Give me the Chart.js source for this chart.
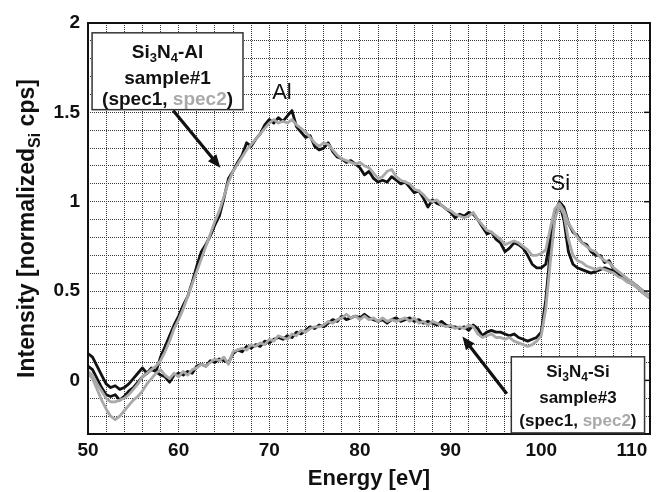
<!DOCTYPE html>
<html>
<head>
<meta charset="utf-8">
<script src="https://cdn.jsdelivr.net/npm/chart.js@4"></script>
<style>
  body { margin: 0; background: #fff; }
  canvas { display: block; }
</style>
</head>
<body>
<canvas id="eelsChart" width="657" height="492"></canvas>
<script>
// Energía (eV), paso 0.5
const energy = [
  50, 50.5, 51, 51.5, 52, 52.5, 53, 53.5, 54, 54.5, 55, 55.5, 56, 56.5, 57, 57.5, 58, 58.5, 59, 59.5,
  60, 60.5, 61, 61.5, 62, 62.5, 63, 63.5, 64, 64.5, 65, 65.5, 66, 66.5, 67, 67.5, 68, 68.5, 69, 69.5,
  70, 70.5, 71, 71.5, 72, 72.5, 73, 73.5, 74, 74.5, 75, 75.5, 76, 76.5, 77, 77.5, 78, 78.5, 79, 79.5,
  80, 80.5, 81, 81.5, 82, 82.5, 83, 83.5, 84, 84.5, 85, 85.5, 86, 86.5, 87, 87.5, 88, 88.5, 89, 89.5,
  90, 90.5, 91, 91.5, 92, 92.5, 93, 93.5, 94, 94.5, 95, 95.5, 96, 96.5, 97, 97.5, 98, 98.5, 99, 99.5,
  100, 100.5, 101, 101.5, 102, 102.5, 103, 103.5, 104, 104.5, 105, 105.5, 106, 106.5, 107, 107.5, 108, 108.5, 109, 109.5,
  110, 110.5, 111, 111.5, 112
];

// Si3N4-Al sample#1
const alSpec1 = [
  0.15, 0.13, 0.08, 0.03, -0.02, -0.04, -0.03, -0.05, -0.04, -0.02, 0.01, 0.04, 0.07, 0.04, 0.06, 0.05, 0.13, 0.19, 0.25, 0.31,
  0.36, 0.42, 0.47, 0.55, 0.64, 0.72, 0.76, 0.81, 0.87, 0.92, 1.02, 1.13, 1.17, 1.22, 1.26, 1.33, 1.31, 1.35, 1.38, 1.43,
  1.46, 1.44, 1.47, 1.45, 1.48, 1.51, 1.42, 1.39, 1.36, 1.37, 1.31, 1.29, 1.30, 1.33, 1.28, 1.25, 1.24, 1.22, 1.23, 1.21,
  1.19, 1.15, 1.17, 1.13, 1.11, 1.12, 1.11, 1.14, 1.12, 1.10, 1.11, 1.08, 1.05, 1.06, 1.02, 0.97, 1.01, 0.99, 0.98, 0.96,
  0.94, 0.91, 0.93, 0.92, 0.94, 0.93, 0.90, 0.86, 0.82, 0.83, 0.79, 0.77, 0.72, 0.74, 0.77, 0.76, 0.74, 0.70, 0.65, 0.63,
  0.63, 0.65, 0.80, 0.93, 1.00, 0.97, 0.88, 0.83, 0.81, 0.77, 0.76, 0.72, 0.70, 0.70, 0.66, 0.67, 0.62, 0.60, 0.58, 0.56,
  0.54, 0.53, 0.50, 0.48, 0.46
];
const alSpec2 = [
  0.05, 0.03, -0.02, -0.06, -0.10, -0.12, -0.12, -0.11, -0.10, -0.08, -0.05, -0.02, 0.02, 0.04, 0.06, 0.08, 0.11, 0.16, 0.22, 0.29,
  0.34, 0.40, 0.47, 0.54, 0.61, 0.68, 0.75, 0.82, 0.89, 0.95, 1.03, 1.11, 1.17, 1.21, 1.25, 1.29, 1.32, 1.35, 1.38, 1.41,
  1.44, 1.46, 1.44, 1.45, 1.44, 1.46, 1.43, 1.41, 1.39, 1.36, 1.33, 1.31, 1.33, 1.32, 1.29, 1.26, 1.24, 1.23, 1.22, 1.21,
  1.22, 1.20, 1.19, 1.16, 1.13, 1.14, 1.17, 1.18, 1.14, 1.12, 1.11, 1.10, 1.07, 1.06, 1.04, 1.01, 1.00, 1.01, 0.98, 0.96,
  0.95, 0.93, 0.92, 0.91, 0.92, 0.94, 0.90, 0.87, 0.84, 0.83, 0.81, 0.79, 0.76, 0.77, 0.78, 0.77, 0.75, 0.73, 0.70, 0.70,
  0.71, 0.73, 0.85, 0.96, 0.99, 0.95, 0.88, 0.84, 0.80, 0.77, 0.75, 0.73, 0.72, 0.69, 0.67, 0.66, 0.63, 0.61, 0.59, 0.57,
  0.55, 0.53, 0.51, 0.49, 0.47
];

// Si3N4-Si sample#3
const siSpec1 = [
  0.08, 0.06, 0.01, -0.04, -0.08, -0.09, -0.08, -0.11, -0.09, -0.06, -0.04, -0.01, 0.02, 0.04, 0.07, 0.05, 0.03, 0.02, -0.01, 0.03,
  0.04, 0.03, 0.05, 0.04, 0.08, 0.09, 0.08, 0.11, 0.10, 0.12, 0.11, 0.10, 0.15, 0.17, 0.16, 0.19, 0.18, 0.20, 0.19, 0.22,
  0.21, 0.23, 0.24, 0.23, 0.25, 0.24, 0.27, 0.26, 0.28, 0.30, 0.29, 0.31, 0.30, 0.32, 0.34, 0.33, 0.36, 0.34, 0.35, 0.36,
  0.35, 0.37, 0.35, 0.34, 0.33, 0.34, 0.32, 0.34, 0.35, 0.33, 0.34, 0.35, 0.33, 0.34, 0.32, 0.33, 0.32, 0.31, 0.33, 0.31,
  0.30, 0.30, 0.29, 0.30, 0.28, 0.31, 0.29, 0.25, 0.27, 0.28, 0.27, 0.27, 0.26, 0.25, 0.26, 0.24, 0.23, 0.22, 0.23, 0.24,
  0.27, 0.45, 0.72, 0.92, 0.99, 0.90, 0.72, 0.65, 0.63, 0.62, 0.61, 0.60, 0.61, 0.62, 0.63, 0.62, 0.61, 0.59, 0.58, 0.56,
  0.55, 0.53, 0.51, 0.49, 0.47
];
const siSpec2 = [
  0.04, 0.01, -0.05, -0.11, -0.16, -0.20, -0.22, -0.20, -0.17, -0.14, -0.11, -0.09, -0.06, -0.02, 0.01, 0.04, 0.06, 0.03, 0.01, 0.04,
  0.02, 0.05, 0.03, 0.06, 0.07, 0.09, 0.08, 0.10, 0.12, 0.11, 0.13, 0.09, 0.16, 0.17, 0.18, 0.17, 0.20, 0.19, 0.21, 0.20,
  0.23, 0.22, 0.25, 0.24, 0.23, 0.26, 0.25, 0.28, 0.27, 0.29, 0.30, 0.30, 0.31, 0.33, 0.32, 0.34, 0.35, 0.37, 0.35, 0.36,
  0.34, 0.36, 0.34, 0.35, 0.33, 0.35, 0.33, 0.34, 0.33, 0.34, 0.35, 0.33, 0.35, 0.32, 0.33, 0.31, 0.33, 0.32, 0.31, 0.30,
  0.31, 0.29, 0.30, 0.29, 0.31, 0.30, 0.26, 0.24, 0.25, 0.26, 0.24, 0.24, 0.23, 0.24, 0.22, 0.21, 0.20, 0.19, 0.20, 0.22,
  0.25, 0.40, 0.66, 0.90, 0.98, 0.93, 0.79, 0.70, 0.67, 0.66, 0.64, 0.63, 0.62, 0.63, 0.62, 0.61, 0.60, 0.58, 0.57, 0.55,
  0.54, 0.52, 0.50, 0.48, 0.46
];

const xLabelTicks = [50, 60, 70, 80, 90, 100, 110];
const yLabelTicks = [0, 0.5, 1, 1.5, 2];

const BLACK = '#111111';
const GREY = '#a9a9a9';
const FONT = '"Liberation Sans", Arial, sans-serif';

function serie(values, color) {
    return {
        data: energy.map((e, i) => ({ x: e, y: values[i] })),
        borderColor: color,
        borderWidth: 2.8,
        pointRadius: 0,
        tension: 0,
        borderJoinStyle: 'round',
        fill: false
    };
}

// texto con subíndices: partes [texto, sub?, color?]
function drawRich(ctx, parts, cx, cy, size, weight) {
    const w = weight || 'bold';
    const subSize = Math.round(size * 0.68);
    let total = 0;
    parts.forEach(p => {
        ctx.font = w + ' ' + (p[1] ? subSize : size) + 'px ' + FONT;
        total += ctx.measureText(p[0]).width;
    });
    let x = cx - total / 2;
    ctx.textAlign = 'left';
    ctx.textBaseline = 'middle';
    parts.forEach(p => {
        ctx.font = w + ' ' + (p[1] ? subSize : size) + 'px ' + FONT;
        ctx.fillStyle = p[2] || BLACK;
        ctx.fillText(p[0], x, p[1] ? cy + size * 0.32 : cy);
        x += ctx.measureText(p[0]).width;
    });
}

function arrow(ctx, x1, y1, x2, y2) {
    const ang = Math.atan2(y2 - y1, x2 - x1);
    const head = 14;
    ctx.save();
    ctx.strokeStyle = BLACK;
    ctx.fillStyle = BLACK;
    ctx.lineWidth = 3.2;
    ctx.beginPath();
    ctx.moveTo(x1, y1);
    ctx.lineTo(x2 - Math.cos(ang) * head * 0.8, y2 - Math.sin(ang) * head * 0.8);
    ctx.stroke();
    ctx.beginPath();
    ctx.moveTo(x2, y2);
    ctx.lineTo(x2 - head * Math.cos(ang - 0.4), y2 - head * Math.sin(ang - 0.4));
    ctx.lineTo(x2 - head * Math.cos(ang + 0.4), y2 - head * Math.sin(ang + 0.4));
    ctx.closePath();
    ctx.fill();
    ctx.restore();
}

function box(ctx, x1, y1, x2, y2) {
    ctx.save();
    ctx.fillStyle = '#ffffff';
    ctx.fillRect(x1, y1, x2 - x1, y2 - y1);
    ctx.strokeStyle = '#333333';
    ctx.lineWidth = 1.5;
    ctx.strokeRect(x1, y1, x2 - x1, y2 - y1);
    ctx.restore();
}

const extras = {
    id: 'extras',
    afterDraw(chart) {
        const ctx = chart.ctx;
        const xs = chart.scales.x, ys = chart.scales.y;
        const a = chart.chartArea;
        const px = v => xs.getPixelForValue(v);
        const py = v => ys.getPixelForValue(v);

        // marco
        ctx.save();
        ctx.strokeStyle = BLACK;
        ctx.lineWidth = 2;
        ctx.strokeRect(a.left, a.top, a.right - a.left, a.bottom - a.top);
        // marcas en el eje derecho
        ctx.lineWidth = 1.5;
        yLabelTicks.forEach(v => {
            ctx.beginPath();
            ctx.moveTo(a.right, py(v));
            ctx.lineTo(a.right - 6, py(v));
            ctx.stroke();
        });
        ctx.restore();

        // etiquetas de picos
        drawRich(ctx, [['Al']], px(71.4), py(1.61), 22, 'normal');
        drawRich(ctx, [['Si']], px(102.1), py(1.10), 22, 'normal');

        // recuadro Si3N4-Al
        arrow(ctx, px(59.4), py(1.51), px(64.6), py(1.19));
        box(ctx, px(50.45), py(1.945), px(67.1), py(1.515));
        let cx = (px(50.45) + px(67.1)) / 2;
        drawRich(ctx, [['Si'], ['3', true], ['N'], ['4', true], ['-Al']], cx, py(1.835), 19);
        drawRich(ctx, [['sample#1']], cx, py(1.69), 19);
        drawRich(ctx, [['(spec1, '], ['spec2', false, GREY], [')']], cx, py(1.57), 19);

        // recuadro Si3N4-Si
        arrow(ctx, px(96.2), py(-0.075), px(91.3), py(0.245));
        box(ctx, px(96.7), py(0.132), px(111.4), py(-0.294));
        cx = (px(96.7) + px(111.4)) / 2;
        drawRich(ctx, [['Si'], ['3', true], ['N'], ['4', true], ['-Si']], cx, py(0.043), 17);
        drawRich(ctx, [['sample#3']], cx, py(-0.098), 17);
        drawRich(ctx, [['(spec1, '], ['spec2', false, GREY], [')']], cx, py(-0.227), 17);

        // títulos de ejes
        drawRich(ctx, [['Energy [eV]']], (a.left + a.right) / 2, 479, 22);
        ctx.save();
        ctx.translate(28, (a.top + a.bottom) / 2);
        ctx.rotate(-Math.PI / 2);
        drawRich(ctx, [['Intensity [normalized'], ['Si', true], [' cps]']], 0, 0, 23);
        ctx.restore();
    }
};

const tickFont = { family: FONT, size: 19, weight: 'bold' };
const near = (v, list) => list.some(t => Math.abs(t - v) < 1e-6);

new Chart(document.getElementById('eelsChart').getContext('2d'), {
    type: 'line',
    data: {
        datasets: [
            serie(siSpec2, GREY),
            serie(alSpec2, GREY),
            serie(siSpec1, BLACK),
            serie(alSpec1, BLACK)
        ]
    },
    options: {
        responsive: false,
        animation: false,
        layout: { padding: { left: 0, right: 7, top: 23, bottom: 0 } },
        plugins: {
            legend: { display: false },
            tooltip: { enabled: false }
        },
        scales: {
            x: {
                type: 'linear',
                min: 50,
                max: 112,
                afterFit: s => { s.height = 58; },
                ticks: {
                    stepSize: 2,
                    autoSkip: false,
                    maxRotation: 0,
                    padding: 5,
                    color: BLACK,
                    font: tickFont,
                    callback: v => near(v, xLabelTicks) ? String(v) : ''
                },
                grid: { color: '#3a3a3a', lineWidth: 1, drawTicks: false },
                border: { display: false, dash: [1, 1] }
            },
            y: {
                type: 'linear',
                min: -0.3,
                max: 2,
                afterFit: s => { s.width = 88; },
                ticks: {
                    stepSize: 0.1,
                    autoSkip: false,
                    padding: 8,
                    color: BLACK,
                    font: tickFont,
                    callback: v => near(v, yLabelTicks) ? String(Math.round(v * 10) / 10) : ''
                },
                grid: { color: '#3a3a3a', lineWidth: 1, drawTicks: false },
                border: { display: false, dash: [1, 1] }
            }
        }
    },
    plugins: [extras]
});
</script>
</body>
</html>
